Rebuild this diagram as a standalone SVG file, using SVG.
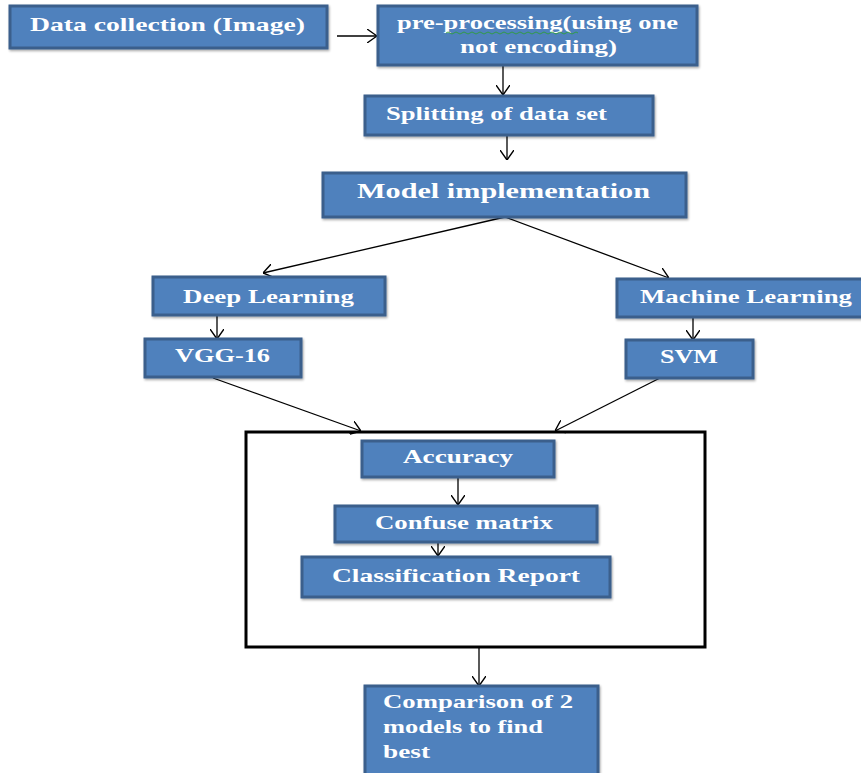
<svg xmlns="http://www.w3.org/2000/svg" width="861" height="773" viewBox="0 0 861 773">
<defs>
<marker id="arr" viewBox="0 0 10 14" refX="10" refY="7" markerUnits="userSpaceOnUse" markerWidth="10" markerHeight="14" orient="auto">
<path d="M0,0 L10,7 L0,14" fill="none" stroke="#000" stroke-width="1.4"/>
</marker>
<filter id="sh" x="-5%" y="-5%" width="110%" height="120%">
<feDropShadow dx="1" dy="1.5" stdDeviation="1" flood-color="#000" flood-opacity="0.35"/>
</filter>
</defs>
<style>
.box{fill:#4F81BD;stroke:#3A5F8C;stroke-width:3;filter:url(#sh)}
.t{font-family:"Liberation Serif","Times New Roman",serif;font-weight:bold;font-size:19px;fill:#FFFFFF}
.big{font-size:22px}
.c{fill:none;stroke:#000;stroke-width:1.3;marker-end:url(#arr)}
</style>
<rect width="861" height="773" fill="#FFFFFF"/>
<g id="connectors">
<line class="c" x1="337" y1="36" x2="377" y2="36"/>
<line class="c" x1="503" y1="66" x2="503" y2="95"/>
<line class="c" x1="507" y1="135" x2="507" y2="160"/>
<line class="c" x1="505" y1="217" x2="263" y2="273"/>
<line class="c" x1="505" y1="217" x2="669" y2="278"/>
<line class="c" x1="217" y1="315" x2="217" y2="339"/>
<line class="c" x1="693" y1="317" x2="693" y2="340"/>
<line class="c" x1="213" y1="378" x2="361" y2="431"/>
<line class="c" x1="660" y1="378" x2="555" y2="431"/>
<line class="c" x1="458" y1="477" x2="458" y2="505"/>
<line class="c" x1="438" y1="542" x2="438" y2="556"/>
<line class="c" x1="479" y1="648" x2="479" y2="686"/>
</g>
<g id="container">
<rect x="246" y="432" width="459" height="215" fill="none" stroke="#000" stroke-width="3"/>
</g>
<g id="data-collection">
<rect class="box" x="10" y="6" width="317" height="42"/>
<text class="t" x="30" y="31" textLength="275" lengthAdjust="spacingAndGlyphs">Data collection (Image)</text>
</g>
<g id="pre-processing">
<rect class="box" x="378" y="6" width="319" height="59"/>
<text class="t" x="397" y="29" textLength="281" lengthAdjust="spacingAndGlyphs">pre-processing(using one</text>
<text class="t" x="460" y="53" textLength="157" lengthAdjust="spacingAndGlyphs">not encoding)</text>
<path d="M446,33 q2,-2 4,0 t4,0 t4,0 t4,0 t4,0 t4,0 t4,0 t4,0 t4,0 t4,0 t4,0 t4,0 t4,0 t4,0 t4,0 t4,0 t4,0 t4,0 t4,0 t4,0 t4,0 t4,0 t4,0 t4,0 t4,0 t4,0 t4,0 t4,0 t4,0 t4,0 t4,0 t4,0 t4,0" fill="none" stroke="#2E9E3A" stroke-width="0.9"/>
</g>
<g id="splitting">
<rect class="box" x="365" y="96" width="288" height="39"/>
<text class="t" x="386" y="120" textLength="221" lengthAdjust="spacingAndGlyphs">Splitting of data set</text>
</g>
<g id="model-implementation">
<rect class="box" x="323" y="173" width="363" height="44"/>
<text class="t big" x="357" y="198" textLength="293" lengthAdjust="spacingAndGlyphs">Model implementation</text>
</g>
<g id="deep-learning">
<rect class="box" x="153" y="277" width="232" height="38"/>
<text class="t" x="183" y="303" textLength="171" lengthAdjust="spacingAndGlyphs">Deep Learning</text>
</g>
<g id="machine-learning">
<rect class="box" x="617" y="279" width="250" height="38"/>
<text class="t" x="640" y="303" textLength="212" lengthAdjust="spacingAndGlyphs">Machine Learning</text>
</g>
<g id="vgg16">
<rect class="box" x="145" y="339" width="156" height="38"/>
<text class="t" x="175" y="362" textLength="95" lengthAdjust="spacingAndGlyphs">VGG-16</text>
</g>
<g id="svm">
<rect class="box" x="626" y="340" width="127" height="38"/>
<text class="t" x="660" y="363" textLength="58" lengthAdjust="spacingAndGlyphs">SVM</text>
</g>
<g id="accuracy">
<rect class="box" x="362" y="441" width="192" height="36"/>
<text class="t" x="403" y="463" textLength="110" lengthAdjust="spacingAndGlyphs">Accuracy</text>
</g>
<g id="confuse-matrix">
<rect class="box" x="335" y="506" width="262" height="36"/>
<text class="t" x="375" y="529" textLength="178" lengthAdjust="spacingAndGlyphs">Confuse matrix</text>
</g>
<g id="classification-report">
<rect class="box" x="302" y="557" width="308" height="40"/>
<text class="t" x="332" y="582" textLength="248" lengthAdjust="spacingAndGlyphs">Classification Report</text>
</g>
<g id="comparison">
<rect class="box" x="365" y="686" width="233" height="92"/>
<text class="t" x="383" y="708" textLength="190" lengthAdjust="spacingAndGlyphs">Comparison of 2</text>
<text class="t" x="383" y="733" textLength="160" lengthAdjust="spacingAndGlyphs">models to find</text>
<text class="t" x="383" y="758" textLength="47" lengthAdjust="spacingAndGlyphs">best</text>
</g>
</svg>
